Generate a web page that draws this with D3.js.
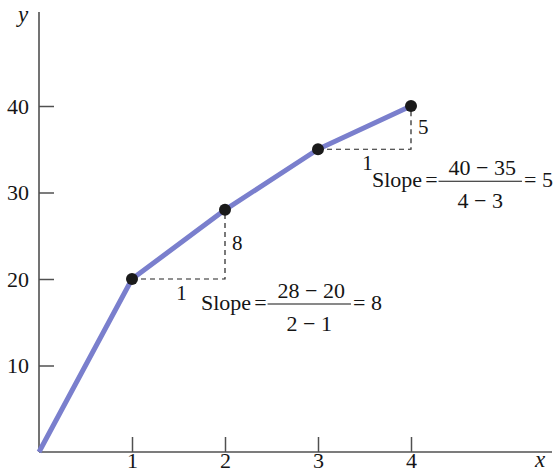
<!DOCTYPE html>
<html>
<head>
<meta charset="utf-8">
<script src="https://cdn.jsdelivr.net/npm/d3@7"></script>
<style>
  body { margin: 0; background: #fff; }
  svg text { font-family: "Liberation Serif", "Times New Roman", serif; fill: #151515; }
</style>
</head>
<body>
<svg id="chart" width="556" height="473"></svg>
<script>
const xValues = [0, 1, 2, 3, 4];
const yValues = [0, 20, 28, 35, 40];
const xTicks = [1, 2, 3, 4];
const yTicks = [10, 20, 30, 40];
// slope triangles, as [from index, to index] into the arrays above
const slopeSegments = [[1, 2], [3, 4]];

const svg = d3.select('svg#chart');
const width = 556;
const height = 473;

const xScale = d3.scaleLinear().domain([0, 4]).range([39, 411]);
const yScale = d3.scaleLinear().domain([0, 40]).range([452, 106]);

const axisColor = '#505050';
const lineColor = '#7a7fcd';
const fontSize = '22px';

const drawAxis = () => {
  const xAxis = d3.axisBottom(xScale)
    .tickValues(xTicks)
    .tickFormat(d3.format('d'))
    .tickSize(-15)
    .tickPadding(0);
  const yAxis = d3.axisLeft(yScale)
    .tickValues(yTicks)
    .tickFormat(d3.format('d'))
    .tickSize(-15)
    .tickPadding(10);

  const xAxisG = svg.append('g')
    .attr('transform', `translate(0,${yScale(0)})`)
    .call(xAxis);
  const yAxisG = svg.append('g')
    .attr('transform', `translate(${xScale(0)},0)`)
    .call(yAxis);

  [xAxisG, yAxisG].forEach(g => {
    g.select('.domain').remove();
    g.attr('font-family', null).attr('font-size', null);
    g.selectAll('line').attr('stroke', axisColor).attr('stroke-width', 1.5);
    g.selectAll('text').style('font-size', fontSize).attr('fill', '#151515');
  });

  // axis lines
  svg.append('line')
    .attr('x1', xScale(0)).attr('x2', width - 4)
    .attr('y1', yScale(0)).attr('y2', yScale(0))
    .attr('stroke', axisColor).attr('stroke-width', 1.6);
  svg.append('line')
    .attr('x1', xScale(0)).attr('x2', xScale(0))
    .attr('y1', yScale(0)).attr('y2', 12)
    .attr('stroke', axisColor).attr('stroke-width', 1.6);

  svg.append('text')
    .attr('x', 18).attr('y', 22)
    .style('font-style', 'italic').style('font-size', '23px')
    .text('y');
  svg.append('text')
    .attr('x', 535).attr('y', 467)
    .style('font-style', 'italic').style('font-size', '23px')
    .text('x');
};

const drawFraction = (left, baseline, num, den, result) => {
  const g = svg.append('g').style('font-size', fontSize);
  const slope = g.append('text')
    .attr('x', left).attr('y', baseline)
    .text('Slope');
  const slopeW = slope.node().getComputedTextLength();

  const eq = g.append('text')
    .attr('x', left + slopeW + 3).attr('y', baseline)
    .text('=');
  const eqW = eq.node().getComputedTextLength();

  const numText = g.append('text')
    .attr('text-anchor', 'middle')
    .attr('y', baseline - 12)
    .text(num);
  const numW = numText.node().getComputedTextLength();
  const barLeft = left + slopeW + 3 + eqW + 1;
  const barW = numW + 16;
  numText.attr('x', barLeft + barW / 2 + 2);

  g.append('text')
    .attr('text-anchor', 'middle')
    .attr('x', barLeft + barW / 2)
    .attr('y', baseline + 21)
    .text(den);

  g.append('line')
    .attr('x1', barLeft).attr('x2', barLeft + barW)
    .attr('y1', baseline - 6).attr('y2', baseline - 6)
    .attr('stroke', '#151515').attr('stroke-width', 1.2);

  g.append('text')
    .attr('x', barLeft + barW + 2)
    .attr('y', baseline)
    .text('= ' + result);
};

const drawSlopes = () => {
  // where each slope formula sits, relative to the triangle corner
  const eqOffsets = [{ dx: -24, dy: 31 }, { dx: -39, dy: 38 }];

  slopeSegments.forEach(([i, j], k) => {
    const x1 = xValues[i], y1 = yValues[i];
    const x2 = xValues[j], y2 = yValues[j];
    const cx = xScale(x2), cy = yScale(y1);

    svg.append('path')
      .attr('d', `M${xScale(x1)},${cy}H${cx}V${yScale(y2)}`)
      .attr('fill', 'none')
      .attr('stroke', '#222')
      .attr('stroke-width', 1.2)
      .attr('stroke-dasharray', '5,4');

    svg.append('text')
      .attr('x', (xScale(x1) + cx) / 2 + 3)
      .attr('y', cy + 21)
      .attr('text-anchor', 'middle')
      .style('font-size', '21px')
      .text(x2 - x1);

    svg.append('text')
      .attr('x', cx + 7)
      .attr('y', (cy + yScale(y2)) / 2 + 6)
      .style('font-size', '21px')
      .text(y2 - y1);

    drawFraction(cx + eqOffsets[k].dx, cy + eqOffsets[k].dy,
      `${y2} \u2212 ${y1}`, `${x2} \u2212 ${x1}`, (y2 - y1) / (x2 - x1));
  });
};

const drawLine = () => {
  const data = xValues.map((x, i) => ({ x: x, y: yValues[i] }));
  const line = d3.line()
    .x(d => xScale(d.x))
    .y(d => yScale(d.y));

  svg.append('path')
    .datum(data)
    .attr('d', line)
    .attr('fill', 'none')
    .attr('stroke', lineColor)
    .attr('stroke-width', 5)
    .attr('stroke-linejoin', 'round');

  svg.selectAll('circle')
    .data(data.filter(d => d.x > 0))
    .enter().append('circle')
      .attr('cx', d => xScale(d.x))
      .attr('cy', d => yScale(d.y))
      .attr('r', 6)
      .attr('fill', '#1a1a1a');
};

drawAxis();
drawSlopes();
drawLine();
</script>
</body>
</html>
